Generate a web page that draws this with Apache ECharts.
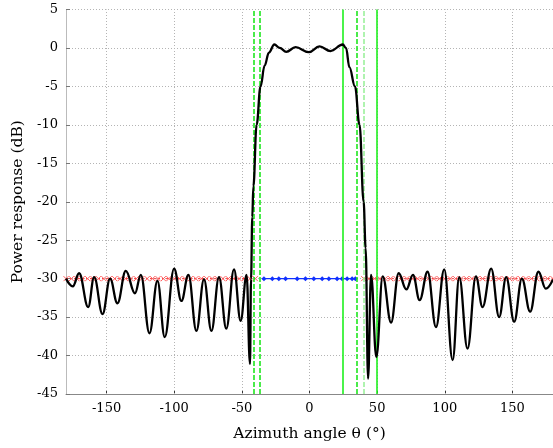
<!DOCTYPE html>
<html><head><meta charset="utf-8">
<script src="https://cdn.jsdelivr.net/npm/echarts@6/dist/echarts.min.js"></script>
<style>html,body{margin:0;padding:0;background:#fff}#c{width:553px;height:448px}</style>
</head><body><div id="c"></div>
<script>
// Beam pattern (azimuth deg, dB)
const patternAngles = [-180,-175,-170.3,-163.6,-159.2,-153,-147.4,-142,-135.8,-129,-124.7,-118.3,-112.4,-107,-100.1,-94.7,-89.5,-83.6,-78,-72.5,-66.9,-61.5,-55.8,-50.9,-46.5,-44,
  -43.2,-42.3,-41.5,-39.1,-36.2,-33.2,-30,-26,-22,-17.2,-10.3,-0.5,7.4,15.5,24.6,27,29.5,33.6,37,40,41.5,43.3,
  45.5,49.4,54.1,60.3,65.9,71.6,76.5,81.4,87.3,93.5,99.6,105.8,110.7,116.8,123,127.9,134.3,140.2,145.4,151.3,157,163.1,169.2,174.7,180];
const patternDb = [-30.0,-31.0,-29.3,-33.7,-29.8,-34.6,-30.0,-33.2,-29.0,-31.9,-29.5,-37.1,-30.3,-37.6,-28.7,-32.9,-29.5,-36.8,-30.1,-36.8,-29.8,-36.5,-28.8,-35.5,-29.5,-41.1,
  -30,-22,-18,-10,-5,-2.3,-0.6,0.45,0.0,-0.5,0.1,-0.55,0.2,-0.4,0.45,0.0,-2.5,-5,-10,-20,-26,-43,
  -29.5,-40.2,-29.7,-35.7,-29.3,-31.4,-29.5,-32.8,-29.1,-36.3,-28.8,-40.6,-29.8,-39.1,-29.7,-33.7,-28.7,-35.0,-29.8,-35.6,-30.0,-34.3,-29.1,-31.3,-30.1];
// Sidelobe constraint level (red) sample angles
const redLevel = -30;
const redLeftAngles = [-180,-176,-172,-168,-164,-160,-156,-152,-148,-144,-140,-136,-132,-128,-124,-120,-116,-112,-108,-104,-100,-96,-92,-88,-84,-80,-76,-72,-68,-64,-60,-56,-52,-48,-44,-40];
const redRightAngles = [40,44,48,52,56,60,64,68,72,76,80,84,88,92,96,100,104,108,112,116,120,124,128,132,136,140,144,148,152,156,160,164,168,172,176,180];
// Blue mainlobe samples
const blueLevel = -30;
const blueAngles = [-35,-33.7,-27.5,-22.7,-17.7,-9.1,-3,3.2,9.4,14.3,20.4,24.1,27.8,31.5,33.9,35];
const blueMarked = [-33.7,-27.5,-22.7,-17.7,-9.1,-3,3.2,9.4,14.3,20.4,24.1,27.8,31.5,33.9];
// Vertical reference lines
const greenSolid = [24.6, 49.7];
const greenDashed = [-41.5, -36.9, 35.2];
const greenLight = [40.1];
const xTicks = [-150,-100,-50,0,50,100,150];

const font = '"DejaVu Serif", "Liberation Serif", serif';
const pattern = patternAngles.map((a,i)=>[a,patternDb[i]]);
const redL = redLeftAngles.map(a=>[a,redLevel]);
const redR = redRightAngles.map(a=>[a,redLevel]);
const blue = blueAngles.map(a=>({value:[a,blueLevel], symbol: blueMarked.includes(a)?'diamond':'none'}));
const xSym = 'path://M0,0L10,10M10,0L0,10';

const chart = echarts.init(document.getElementById('c'), null, {renderer:'canvas'});
chart.setOption({
  animation:false,
  backgroundColor:'#fff',
  grid:{left:66, right:0, top:9.5, bottom:54},
  xAxis:{type:'value', min:-180, max:180,
    name:'Azimuth angle θ (°)', nameLocation:'middle', nameGap:32,
    nameTextStyle:{fontFamily:font, fontSize:15.5, color:'#000'},
    axisLine:{show:true, onZero:false, lineStyle:{color:'#888', width:1}},
    axisTick:{show:true, inside:true, length:4, customValues:xTicks, lineStyle:{color:'#333'}},
    axisLabel:{customValues:xTicks, fontFamily:font, fontSize:13, color:'#000', margin:8},
    splitLine:{show:false}},
  yAxis:{type:'value', min:-45, max:5, interval:5,
    name:'Power response (dB)', nameLocation:'middle', nameGap:38,
    nameTextStyle:{fontFamily:font, fontSize:15.5, color:'#000'},
    axisLine:{show:true, onZero:false, lineStyle:{color:'#bbb', width:1}},
    axisTick:{show:true, inside:true, length:4, lineStyle:{color:'#777'}},
    axisLabel:{fontFamily:font, fontSize:13, color:'#000', margin:8},
    splitLine:{show:true, lineStyle:{type:[1,2], color:'#b4b4b4', width:1}}},
  series:[
    {type:'line', data:[], silent:true, z:1,
      markLine:{silent:true, symbol:'none', label:{show:false},
        lineStyle:{type:[1,2], color:'#b4b4b4', width:1},
        data:xTicks.map(v=>({xAxis:v}))}},
    {type:'line', data:[], silent:true, z:3,
      markLine:{silent:true, symbol:'none', label:{show:false}, animation:false,
        data:[
          ...greenSolid.map(v=>({xAxis:v, lineStyle:{type:'solid', color:'#1ef01e', width:1.6}})),
          ...greenDashed.map(v=>({xAxis:v, lineStyle:{type:[5,2], color:'#1ee61e', width:1.6}})),
          ...greenLight.map(v=>({xAxis:v, lineStyle:{type:[5,2], color:'#9cf09c', width:1.6}}))
        ]}},
    {type:'line', data:redL, z:4, symbol:xSym, symbolSize:5, showAllSymbol:true,
      lineStyle:{color:'#ff3030', width:1, type:[2,2]},
      itemStyle:{color:'#ff6060', borderColor:'#ff6060', borderWidth:1}},
    {type:'line', data:redR, z:4, symbol:xSym, symbolSize:5, showAllSymbol:true,
      lineStyle:{color:'#ff3030', width:1, type:[2,2]},
      itemStyle:{color:'#ff6060', borderColor:'#ff6060', borderWidth:1}},
    {type:'line', data:blue, z:4, symbolSize:5, showAllSymbol:true,
      lineStyle:{color:'#1030ff', width:1.3},
      itemStyle:{color:'#1030ff'}},
    {type:'line', data:pattern, z:5, symbol:'none', smooth:0.4, smoothMonotone:'x',
      lineStyle:{color:'#000', width:2.3}}
  ]
});
</script></body></html>
